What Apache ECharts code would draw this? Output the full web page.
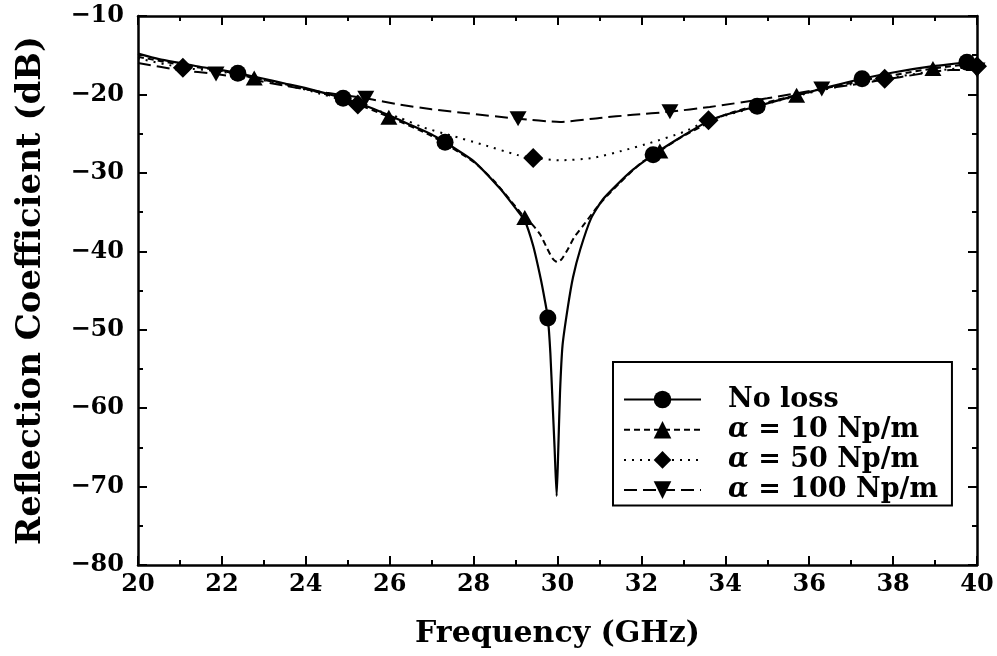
<!DOCTYPE html>
<html>
<head>
<meta charset="utf-8">
<script src="https://cdn.jsdelivr.net/npm/echarts@6/dist/echarts.min.js"></script>
<style>
  html, body { margin: 0; padding: 0; background: #fff; }
  #chart { width: 997px; height: 656px; }
</style>
</head>
<body>
<div id="chart"></div>
<script>
// ---- data ----
var seriesNames = ['No loss', 'α = 10 Np/m', 'α = 50 Np/m', 'α = 100 Np/m'];

var noLossCurve = [[20,-14.8],[20.5,-15.5],[21,-16.0],[21.5,-16.5],[22,-16.9],[22.4,-17.3],[23,-18.0],[23.5,-18.6],[24,-19.2],[24.5,-19.9],[24.9,-20.5],[25.5,-21.6],[26,-22.7],[26.5,-23.9],[27,-25.1],[27.32,-26.1],[27.5,-26.7],[28,-28.5],[28.63,-32.0],[29,-34.5],[29.22,-36.1],[29.42,-39.3],[29.6,-43.5],[29.7,-46.3],[29.77,-48.5],[29.83,-53.0],[29.88,-59.0],[29.93,-65.0],[29.98,-71.2],[30.02,-65.0],[30.06,-58.0],[30.12,-52.0],[30.25,-47.0],[30.37,-43.3],[30.54,-39.8],[30.8,-35.8],[31.08,-33.4],[31.42,-31.5],[31.8,-29.6],[32.28,-27.7],[32.8,-25.9],[33.3,-24.3],[33.6,-23.4],[34,-22.6],[34.76,-21.5],[35.5,-20.4],[36.5,-19.0],[37.26,-18.0],[38,-17.2],[38.95,-16.4],[39.76,-15.9],[40,-15.6]];
var noLossMarkers = [[22.38,-17.3],[24.89,-20.5],[27.32,-26.1],[29.77,-48.5],[32.28,-27.7],[34.76,-21.5],[37.26,-18.0],[39.76,-15.9]];

var a10Curve = [[20,-15.2],[21,-16.2],[22,-17.0],[22.77,-17.9],[23.5,-18.7],[24,-19.3],[25,-20.8],[26,-22.9],[27,-25.3],[28,-28.6],[28.5,-31.1],[29,-34.3],[29.22,-35.7],[29.4,-36.6],[29.58,-37.8],[29.75,-39.6],[29.88,-40.9],[30,-41.4],[30.1,-41.0],[30.25,-39.7],[30.4,-38.2],[30.6,-36.8],[30.94,-34.4],[31.1,-33.4],[31.5,-31.2],[32,-28.7],[32.44,-27.2],[33,-25.3],[34,-22.6],[35,-21.0],[35.7,-20.1],[36.5,-19.1],[37.5,-18.0],[38.95,-16.7],[40,-16.0]];
var a10Markers = [[22.77,-17.9],[25.98,-22.9],[29.22,-35.7],[32.44,-27.2],[35.7,-20.1],[38.95,-16.7]];

var a50Curve = [[20,-15.4],[21.07,-16.6],[22,-17.1],[23,-18.2],[24,-19.4],[25.24,-21.3],[25.8,-22.2],[26.25,-23.0],[26.8,-24.2],[27.44,-25.2],[28.22,-26.4],[29.03,-27.7],[29.42,-28.1],[30.06,-28.4],[30.84,-28.1],[31.6,-27.1],[32.2,-26.2],[33,-24.8],[33.6,-23.3],[34,-22.7],[35,-21.2],[36,-19.8],[37,-18.7],[37.8,-18.0],[39,-17.0],[40,-16.4]];
var a50Markers = [[21.07,-16.6],[25.24,-21.3],[29.42,-28.1],[33.6,-23.3],[37.8,-18.0],[40,-16.4]];

var a100Curve = [[20,-16.0],[21,-16.9],[21.86,-17.4],[22.5,-17.9],[23.5,-18.9],[24.5,-19.8],[25.43,-20.5],[26.25,-21.3],[27,-21.9],[27.84,-22.4],[29.06,-23.1],[30.06,-23.5],[31,-23.0],[31.8,-22.6],[32.68,-22.2],[33.63,-21.6],[35,-20.5],[36.3,-19.3],[37,-18.8],[38.16,-17.8],[39.36,-16.9],[40,-16.9]];
var a100Markers = [[21.86,-17.4],[25.43,-20.5],[29.06,-23.1],[32.68,-22.2],[36.3,-19.3],[40,-16.9]];

var xTicks = {min: 20, max: 40, step: 2};
var yTicks = {min: -80, max: -10, step: 10};

// ---- chart ----
var FONT = 'DejaVu Serif';
var curves = [noLossCurve, a10Curve, a50Curve, a100Curve];
var markers = [noLossMarkers, a10Markers, a50Markers, a100Markers];
var symbols = ['circle', 'triangle', 'diamond', 'path://M0,0 L10,0 L5,9 Z'];
var symbolSizes = [17, [17, 15], [20, 20], [17, 15]];
var dashes = ['solid', [6, 4], [2, 6], [13, 6]];

var series = [];
for (var i = 0; i < 4; i++) {
  series.push({
    name: seriesNames[i], type: 'line', data: curves[i],
    showSymbol: false, symbol: symbols[i], symbolSize: symbolSizes[i],
    smooth: 0.2,
    silent: true, z: 2,
    lineStyle: { color: '#000', width: i === 0 ? 2.2 : 2, type: dashes[i] },
    itemStyle: { color: '#000', opacity: 1 },
    emphasis: { disabled: true }
  });
}
for (var j = 0; j < 4; j++) {
  series.push({
    name: seriesNames[j], type: 'scatter', data: markers[j],
    symbol: symbols[j], symbolSize: symbolSizes[j], silent: true, z: 3,
    itemStyle: { color: '#000', opacity: 1 }, emphasis: { disabled: true }
  });
}

function minusFmt(v) { return String(v).replace('-', '\u2212'); }

var labelStyle = { fontFamily: FONT, fontWeight: 'bold', fontSize: 24, color: '#000' };
var axisLine = { show: true, lineStyle: { color: '#000', width: 2.5 } };
var tick = { show: true, inside: true, length: 9, lineStyle: { color: '#000', width: 2 } };
var minor = { show: true, splitNumber: 2, length: 5, lineStyle: { color: '#000', width: 2 } };

var legendText = { fontFamily: FONT, fontWeight: 'bold', fontSize: 27, color: '#000', lineHeight: 22 };

var chart = echarts.init(document.getElementById('chart'), null, { renderer: 'canvas' });
chart.setOption({
  animation: false,
  backgroundColor: '#fff',
  grid: { left: 138, right: 20, top: 16, bottom: 91, containLabel: false },
  xAxis: [
    { type: 'value', min: xTicks.min, max: xTicks.max, interval: xTicks.step, position: 'bottom',
      axisLine: axisLine, axisTick: tick, minorTick: minor, splitLine: { show: false },
      axisLabel: Object.assign({ margin: 8 }, labelStyle),
      name: 'Frequency (GHz)', nameLocation: 'middle', nameGap: 54,
      nameTextStyle: { fontFamily: FONT, fontWeight: 'bold', fontSize: 30, color: '#000' } },
    { type: 'value', min: xTicks.min, max: xTicks.max, interval: xTicks.step, position: 'top',
      axisLine: axisLine, axisTick: tick, minorTick: minor, splitLine: { show: false },
      axisLabel: { show: false } }
  ],
  yAxis: [
    { type: 'value', min: yTicks.min, max: yTicks.max, interval: yTicks.step, position: 'left',
      axisLine: axisLine, axisTick: tick, minorTick: minor, splitLine: { show: false },
      axisLabel: Object.assign({ margin: 14, formatter: minusFmt }, labelStyle),
      name: 'Reflection Coefficient (dB)', nameLocation: 'middle', nameGap: 90,
      nameTextStyle: { fontFamily: FONT, fontWeight: 'bold', fontSize: 34, color: '#000' } },
    { type: 'value', min: yTicks.min, max: yTicks.max, interval: yTicks.step, position: 'right',
      axisLine: axisLine, axisTick: tick, minorTick: minor, splitLine: { show: false },
      axisLabel: { show: false } }
  ],
  legend: {
    data: seriesNames, orient: 'vertical', left: 613, top: 362,
    padding: [24, 14, 2, 10],
    backgroundColor: '#fff', borderColor: '#000', borderWidth: 2, borderRadius: 0,
    itemWidth: 77, itemHeight: 22, itemGap: 3.2,
    selectedMode: false,
    formatter: function (n) {
      if (n.charAt(0) === 'α') return '{a|α}{b|' + n.slice(1) + '}';
      return '{b|' + n + '}';
    },
    textStyle: Object.assign({
      padding: [0, 0, 0, 22],
      rich: {
        a: Object.assign({}, legendText, { fontStyle: 'italic' }),
        b: Object.assign({}, legendText)
      }
    }, legendText)
  },
  series: series
});
</script>
</body>
</html>
